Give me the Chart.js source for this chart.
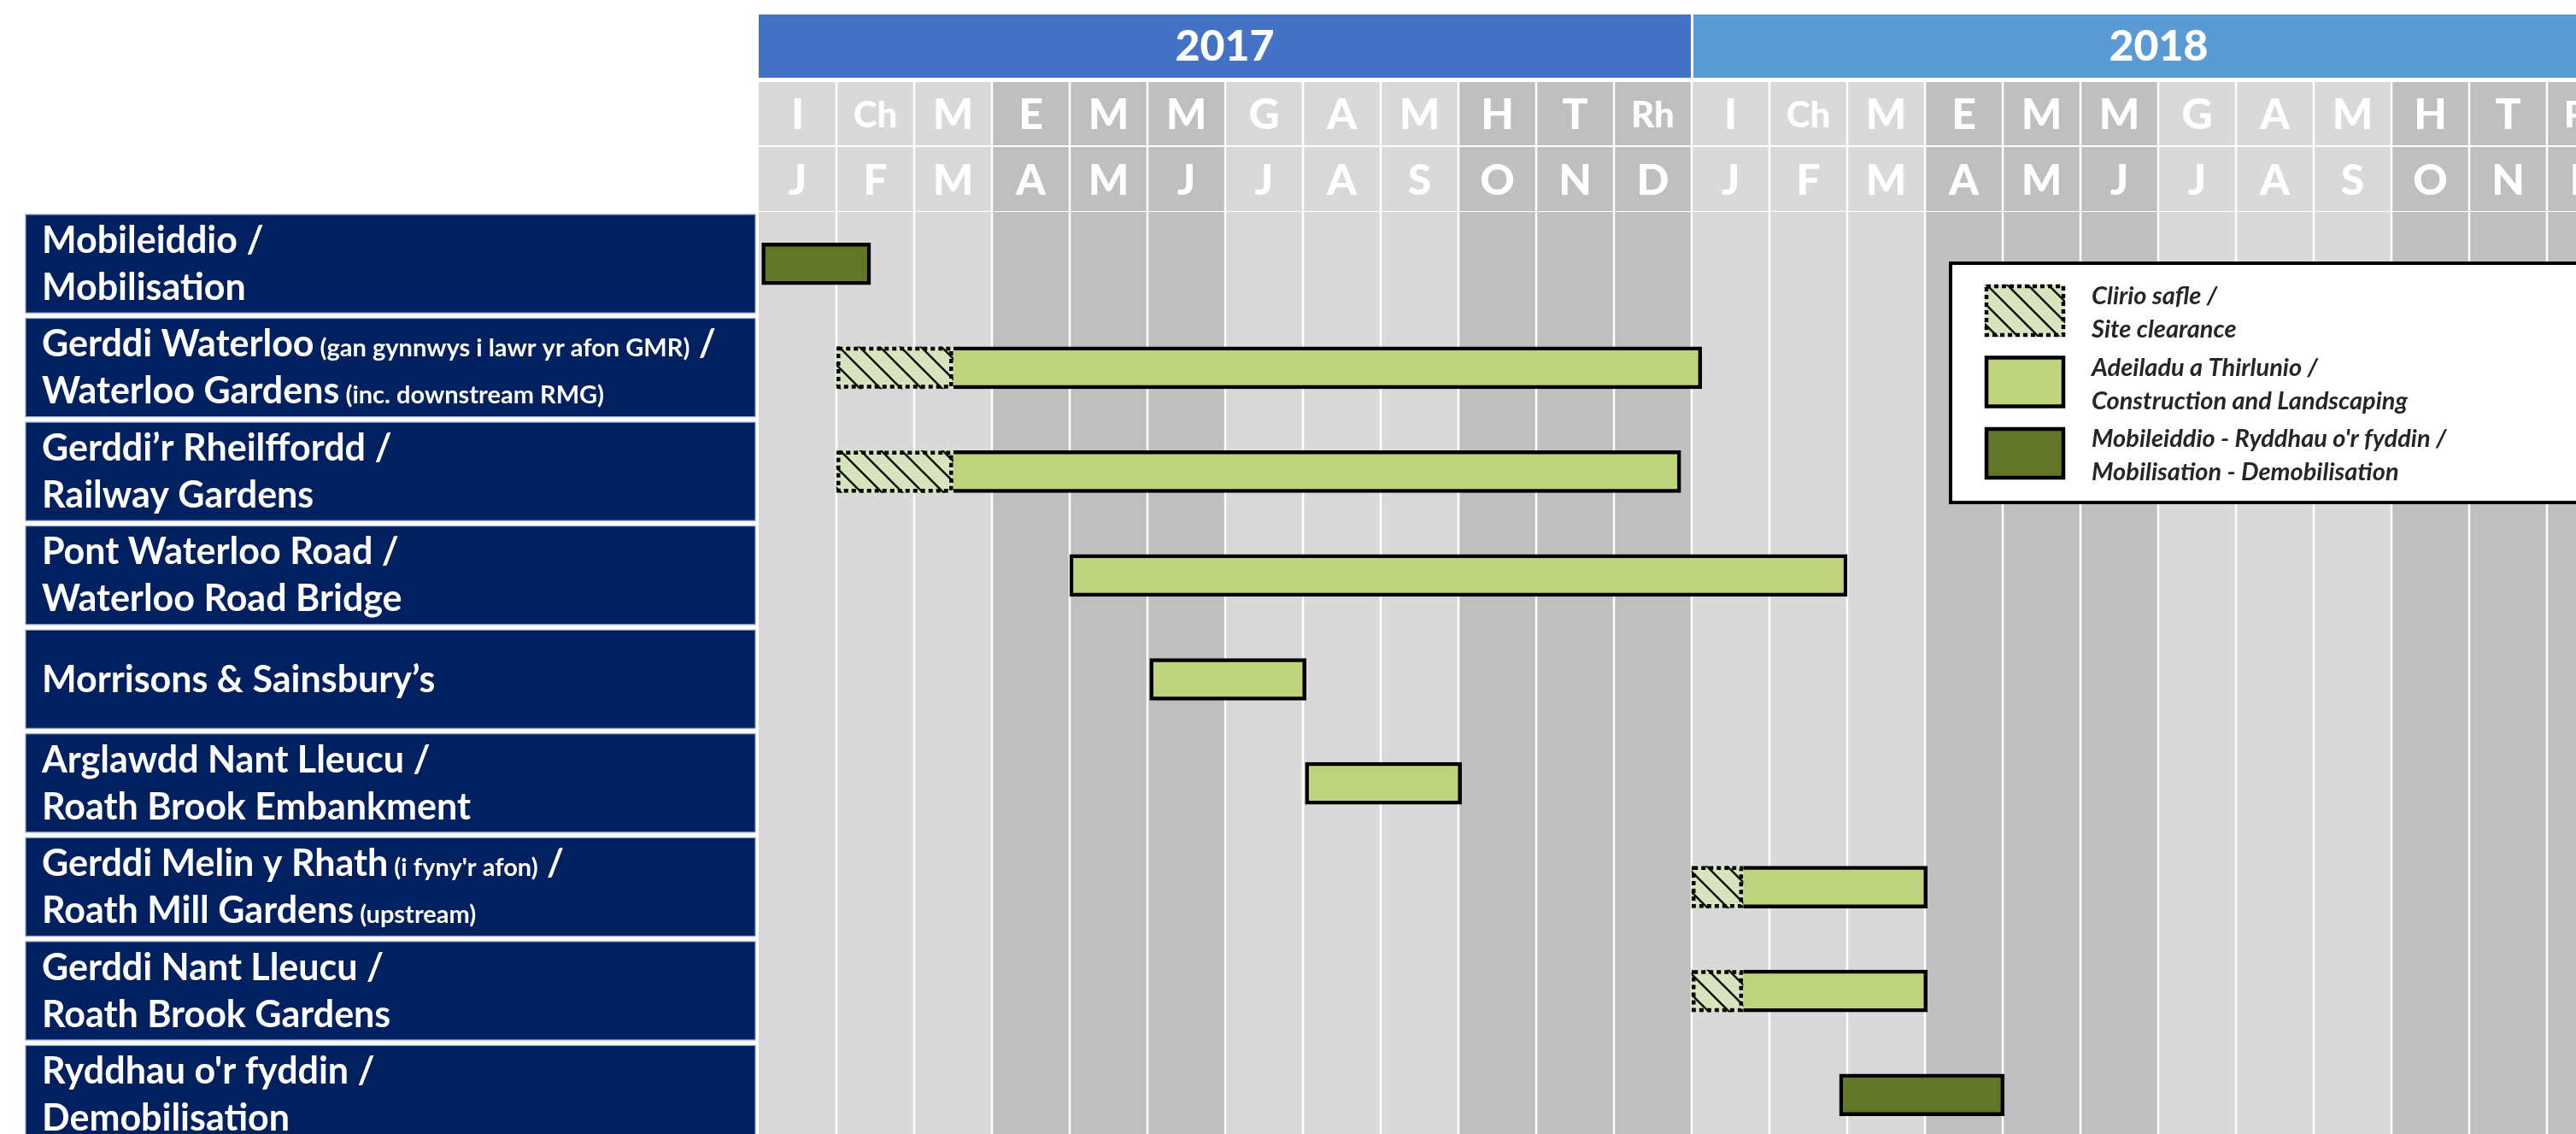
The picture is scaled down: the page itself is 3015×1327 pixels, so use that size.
<!DOCTYPE html>
<html>
<head>
<meta charset="utf-8">
<script src="https://cdn.jsdelivr.net/npm/chart.js@4.4.0/dist/chart.umd.min.js"></script>
<style>
    html, body { margin: 0; padding: 0; overflow: hidden; background: #fff; }
    #wrap { width: 3072px; height: 1342px; position: relative; }
</style>
</head>
<body>
<div id="wrap"><canvas id="gantt"></canvas></div>
<script>
// timeline in months counted from 1 Jan 2017
var years = ['2017', '2018'];
var yearColors = ['#4472c4', '#5b9bd5'];
var monthsCy = ['I', 'Ch', 'M', 'E', 'M', 'M', 'G', 'A', 'M', 'H', 'T', 'Rh'];
var monthsEn = ['J', 'F', 'M', 'A', 'M', 'J', 'J', 'A', 'S', 'O', 'N', 'D'];

var tasks = ['Mobilisation', 'Waterloo Gardens', 'Railway Gardens', 'Waterloo Road Bridge',
    "Morrisons & Sainsbury's", 'Roath Brook Embankment', 'Roath Mill Gardens',
    'Roath Brook Gardens', 'Demobilisation'];

// row label text, each line is [big, small, big, ...]
var taskLines = [
    [['Mobileiddio /'], ['Mobilisation']],
    [['Gerddi Waterloo', ' (gan gynnwys i lawr yr afon GMR)', ' /'], ['Waterloo Gardens', ' (inc. downstream RMG)']],
    [['Gerddi’r Rheilffordd /'], ['Railway Gardens']],
    [['Pont Waterloo Road /'], ['Waterloo Road Bridge']],
    [['Morrisons & Sainsbury’s']],
    [['Arglawdd Nant Lleucu /'], ['Roath Brook Embankment']],
    [['Gerddi Melin y Rhath', ' (i fyny\'r afon)', ' /'], ['Roath Mill Gardens', ' (upstream)']],
    [['Gerddi Nant Lleucu /'], ['Roath Brook Gardens']],
    [['Ryddhau o\'r fyddin /'], ['Demobilisation']]
];

// [start, end] in months
var clearance = [null, [1, 2.5], [1, 2.5], null, null, null, [12, 12.66], [12, 12.66], null];
var construction = [null, [2.5, 12.13], [2.5, 11.86], [4, 14], [5.03, 7.04], [7.03, 9.04], [12.66, 15.03], [12.66, 15.03], null];
var mobilisation = [[0.04, 1.44], null, null, null, null, null, null, null, [13.9, 16.02]];

var legendLines = [
    ['Clirio safle /', 'Site clearance'],
    ['Adeiladu a Thirlunio /', 'Construction and Landscaping'],
    ['Mobileiddio - Ryddhau o\'r fyddin /', 'Mobilisation - Demobilisation']
];

var LIGHT = '#d9d9d9', DARK = '#bfbfbf', NAVY = '#002060';
var GREEN = '#bed37c', OLIVE = '#637526';

function makeHatch() {
    var c = document.createElement('canvas');
    c.width = 24; c.height = 24;
    var g = c.getContext('2d');
    g.fillStyle = '#d7e4bd';
    g.fillRect(0, 0, 24, 24);
    g.strokeStyle = '#151515';
    g.lineWidth = 2.6;
    g.beginPath();
    for (var k = -24; k <= 24; k += 24) {
        g.moveTo(k - 2, -2);
        g.lineTo(k + 26, 26);
    }
    g.stroke();
    return g.createPattern(c, 'repeat');
}
var hatch = makeHatch();

function drawSegments(c, segs, x, y) {
    for (var k = 0; k < segs.length; k++) {
        c.font = (k % 2 === 1) ? 'bold 29px Lato' : 'bold 43px Lato';
        c.fillText(segs[k], x, y);
        x += c.measureText(segs[k]).width;
    }
}

var ganttBackground = {
    id: 'ganttBackground',
    beforeDatasetsDraw: function(chart) {
        var c = chart.ctx, a = chart.chartArea, xs = chart.scales.x, ys = chart.scales.y;
        var nMonths = years.length * 12;
        var yearRow = [a.top - 231, 74], row1 = [a.top - 152, 74], row2 = [a.top - 76, 75];
        c.save();

        // month columns
        c.textAlign = 'center';
        c.textBaseline = 'middle';
        for (var m = 0; m < nMonths; m++) {
            var x0 = xs.getPixelForValue(m), x1 = xs.getPixelForValue(m + 1);
            c.fillStyle = (Math.floor((m % 12) / 3) % 2 === 0) ? LIGHT : DARK;
            c.fillRect(x0, row1[0], x1 - x0, row1[1]);
            c.fillRect(x0, row2[0], x1 - x0, row2[1]);
            c.fillRect(x0, a.top, x1 - x0, a.bottom - a.top);
            c.fillStyle = '#fff';
            var cy = monthsCy[m % 12];
            c.font = cy.length > 1 ? '900 42px Lato' : '900 50px Lato';
            c.fillText(cy, (x0 + x1) / 2, row1[0] + row1[1] / 2 + 2);
            c.font = '900 50px Lato';
            c.fillText(monthsEn[m % 12], (x0 + x1) / 2, row2[0] + row2[1] / 2 + 2);
        }
        c.strokeStyle = '#fff';
        c.lineWidth = 2.5;
        c.beginPath();
        for (m = 1; m < nMonths; m++) {
            var xm = Math.round(xs.getPixelForValue(m));
            c.moveTo(xm, row1[0]);
            c.lineTo(xm, a.bottom);
        }
        c.stroke();

        // years
        for (var y = 0; y < years.length; y++) {
            var ya = xs.getPixelForValue(y * 12) + (y > 0 ? 2 : 0);
            var yb = xs.getPixelForValue((y + 1) * 12) - 1;
            c.fillStyle = yearColors[y];
            c.fillRect(ya, yearRow[0], yb - ya, yearRow[1]);
            c.fillStyle = '#fff';
            c.font = '900 50px Lato';
            c.fillText(years[y], (ya + yb) / 2, yearRow[0] + yearRow[1] / 2 + 1);
        }

        // task label boxes
        var slot = ys.getPixelForValue(1) - ys.getPixelForValue(0);
        c.textAlign = 'left';
        c.textBaseline = 'alphabetic';
        for (var i = 0; i < tasks.length; i++) {
            var yc = ys.getPixelForValue(i);
            var top = yc - slot / 2 + 3;
            c.fillStyle = NAVY;
            c.fillRect(30, top, a.left - 4 - 30, slot - 6.5);
            c.strokeStyle = '#8ea2c8';
            c.lineWidth = 1.2;
            c.strokeRect(30, top, a.left - 4 - 30, slot - 6.5);
            c.fillStyle = '#fff';
            var lines = taskLines[i];
            if (lines.length === 1) {
                drawSegments(c, lines[0], 49, yc + 15);
            } else {
                drawSegments(c, lines[0], 49, yc - 13);
                drawSegments(c, lines[1], 49, yc + 42);
            }
        }
        c.restore();
    }
};

var ganttOverlay = {
    id: 'ganttOverlay',
    afterDatasetsDraw: function(chart) {
        var c = chart.ctx;
        c.save();
        // dotted outline round the site clearance bars
        var meta = chart.getDatasetMeta(0);
        c.strokeStyle = '#000';
        c.lineWidth = 4.5;
        c.setLineDash([5, 4]);
        meta.data.forEach(function(el, i) {
            if (!clearance[i]) return;
            var p = el.getProps(['x', 'y', 'base', 'height'], true);
            var left = Math.min(p.x, p.base), right = Math.max(p.x, p.base);
            c.strokeRect(left + 2.25, p.y - p.height / 2 + 2.25, right - left - 4.5, p.height - 4.5);
        });
        c.setLineDash([]);

        // legend box
        var lx = 2283, ly = 308, lw = 780, lh = 280;
        c.fillStyle = '#fff';
        c.fillRect(lx, ly, lw, lh);
        c.lineWidth = 4;
        c.strokeRect(lx, ly, lw, lh);
        var fills = [hatch, GREEN, OLIVE];
        for (var k = 0; k < legendLines.length; k++) {
            var sy = 333 + k * 83.5;
            c.fillStyle = fills[k];
            c.fillRect(2323, sy, 94, 61);
            c.lineWidth = 4.5;
            c.setLineDash(k === 0 ? [5, 4] : []);
            c.strokeRect(2325, sy + 2, 90, 57);
            c.setLineDash([]);
            c.fillStyle = '#262626';
            c.font = 'italic bold 29px Lato';
            c.fillText(legendLines[k][0], 2448, sy + 23);
            c.fillText(legendLines[k][1], 2448, sy + 62);
        }
        c.restore();
    }
};

var chart = new Chart(document.getElementById('gantt').getContext('2d'), {
    type: 'bar',
    data: {
        labels: tasks,
        datasets: [{
            label: legendLines[0].join(' '),
            data: clearance,
            backgroundColor: hatch,
            borderWidth: 0
        }, {
            label: legendLines[1].join(' '),
            data: construction,
            backgroundColor: GREEN,
            borderColor: '#000',
            borderWidth: 4.5,
            borderSkipped: function(ctx) { return clearance[ctx.dataIndex] ? 'left' : false; }
        }, {
            label: legendLines[2].join(' '),
            data: mobilisation,
            backgroundColor: OLIVE,
            borderColor: '#000',
            borderWidth: 4.5,
            borderSkipped: false
        }]
    },
    options: {
        indexAxis: 'y',
        responsive: true,
        maintainAspectRatio: false,
        animation: false,
        layout: { padding: { left: 888, top: 248, right: 0, bottom: 0 } },
        datasets: { bar: { grouped: false, barThickness: 49 } },
        scales: {
            x: { type: 'linear', min: 0, max: 24, display: false },
            y: { display: false }
        },
        plugins: { legend: { display: false }, tooltip: { enabled: false } }
    },
    plugins: [ganttBackground, ganttOverlay]
});
</script>
</body>
</html>
